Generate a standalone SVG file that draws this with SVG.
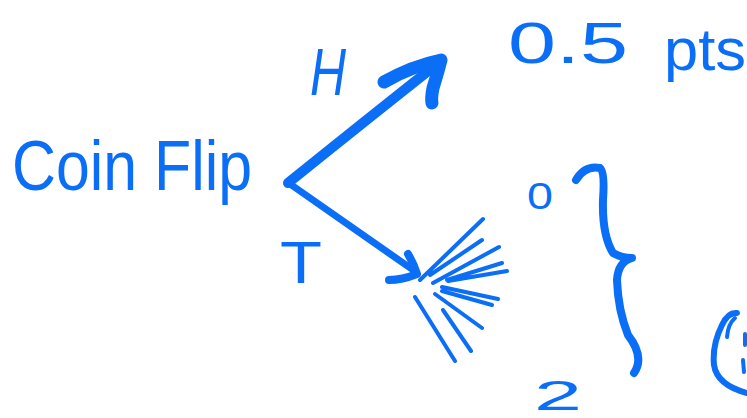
<svg xmlns="http://www.w3.org/2000/svg" width="747" height="418" viewBox="0 0 747 418">
<style>
.t{font-family:"Liberation Sans","DejaVu Sans",sans-serif;fill:#0a6ef7}
.s{fill:none;stroke:#0a6ef7;stroke-linecap:round;stroke-linejoin:round}
</style>
<rect width="747" height="418" fill="#ffffff"/>
<g id="coin-flip"><text class="t" x="12" y="190" font-size="70" textLength="240" lengthAdjust="spacingAndGlyphs">Coin Flip</text></g>
<g id="label-h"><text class="t" x="310" y="95" font-size="66" font-style="italic" textLength="36" lengthAdjust="spacingAndGlyphs">H</text></g>
<g id="label-t"><text class="t" x="280" y="283" font-size="60" textLength="42" lengthAdjust="spacingAndGlyphs">T</text></g>
<g id="points">
<text class="t" x="508" y="63" font-size="58" textLength="120" lengthAdjust="spacingAndGlyphs">0.5</text>
<text class="t" x="664" y="70" font-size="60" textLength="82" lengthAdjust="spacingAndGlyphs">pts</text>
</g>
<g id="outcomes">
<text class="t" x="527" y="209" font-size="36" textLength="26" lengthAdjust="spacingAndGlyphs">0</text>
<text class="t" x="534" y="410" font-size="42" textLength="48" lengthAdjust="spacingAndGlyphs">2</text>
</g>
<g id="connectors">
<path class="s" stroke-width="10" d="M288 183 Q360 125 437 64"/>
<path class="s" stroke-width="13" d="M384 82 Q412 66 441 60 Q438 72 433 88 Q431 98 432 103"/>
<path class="s" stroke-width="7" d="M290 184 L416 272"/>
<path class="s" stroke-width="8" d="M408 254 Q414 264 417 274 Q402 280 389 280"/>
</g>
<g id="burst">
<path class="s" stroke-width="4" d="M420 280 L483 219 M430 275 L482 240 M433 283 L499 247 M447 280 L502 263 M448 281 L507 271 M442 287 L498 299 M442 291 L492 305 M435 294 L482 328 M443 310 L471 351 M415 297 L455 361"/>
</g>
<g id="brace">
<path class="s" stroke-width="8" d="M576 180 Q585 165 600 168 Q605 172 603 200 Q602 235 613 253 Q622 258 632 258 Q618 262 617 280 Q618 310 628 335 Q645 357 634 373"/>
</g>
<g id="edge-mark">
<path class="s" stroke-width="6" d="M737 313 Q728 312 722 325 Q712 345 714 365 Q717 385 747 393"/>
<path class="s" stroke-width="4" d="M727 337 Q728 324 735 318 M745 334 L745 345 M743 360 L744 372"/>
</g>
</svg>
